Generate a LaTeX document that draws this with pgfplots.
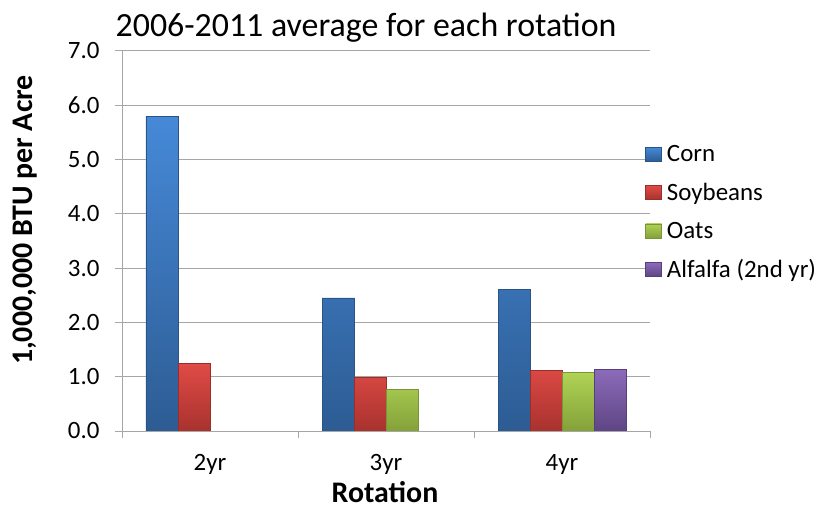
\documentclass[border=0pt]{standalone}
\usepackage{pgfplots}
\pgfplotsset{compat=1.18}
\usepackage{fontspec}
\setmainfont{Carlito}
\definecolor{cornT}{HTML}{4689D8}
\definecolor{cornB}{HTML}{2D5C93}
\definecolor{cornE}{HTML}{2A5486}
\definecolor{soyT}{HTML}{E04B46}
\definecolor{soyB}{HTML}{A8322E}
\definecolor{soyE}{HTML}{9A2E2A}
\definecolor{oatT}{HTML}{B0D355}
\definecolor{oatB}{HTML}{84A13A}
\definecolor{oatE}{HTML}{7A9535}
\definecolor{alfT}{HTML}{8C6BBA}
\definecolor{alfB}{HTML}{5E4584}
\definecolor{alfE}{HTML}{563F7A}
\definecolor{gridc}{HTML}{A6A6A6}
\begin{document}
\begin{tikzpicture}
\path[use as bounding box] (-122bp,-78bp) rectangle (710bp,431bp);
\begin{axis}[
  at={(0,0)}, anchor=south west,
  scale only axis, width=528bp, height=380bp,
  xmin=-0.5, xmax=2.5, ymin=0, ymax=7,
  ybar=0pt, bar width=32bp,
  axis x line=bottom, axis y line=left,
  axis line style={-, draw=gridc, line width=1bp},
  tick align=outside, major tick length=7bp,
  tick style={draw=gridc, line width=1bp},
  ytick={0,1,...,7},
  yticklabel style={/pgf/number format/.cd, fixed, fixed zerofill, precision=1, /tikz/.cd, font=\fontsize{25}{30}\selectfont, xshift=-12bp},
  /pgf/number format/assume math mode=true,
  ymajorgrids, grid style={draw=gridc, line width=1bp},
  xtick={-0.5,0.5,1.5,2.5}, xticklabels={},
  extra x ticks={0,1,2}, extra x tick labels={2yr,3yr,4yr},
  extra x tick style={major tick length=0pt, grid=none,
     xticklabel style={font=\fontsize{25}{30}\selectfont, anchor=base, yshift=-39bp}},
  legend style={at={(0.991,0.757)}, anchor=north west, draw=none, fill=none,
     font=\fontsize{25}{30}\selectfont, row sep=16bp, inner sep=0pt},
  legend cell align=left,
  legend image code/.code={\draw[#1, line width=0.5bp] (0bp,-7bp) rectangle (16bp,7bp); \path (19bp,0bp);},
]
\addplot[top color=cornT, bottom color=cornB, draw=cornE, line width=0.6bp] coordinates {(0,5.80) (1,2.45) (2,2.61)};
\addplot[top color=soyT, bottom color=soyB, draw=soyE, line width=0.6bp] coordinates {(0,1.24) (1,0.99) (2,1.12)};
\addplot[top color=oatT, bottom color=oatB, draw=oatE, line width=0.6bp] coordinates {(1,0.77) (2,1.08)};
\addplot[top color=alfT, bottom color=alfB, draw=alfE, line width=0.6bp] coordinates {(2,1.14)};
\legend{Corn,Soybeans,Oats,Alfalfa (2nd yr)}
\end{axis}
\node[anchor=base, font=\fontsize{34}{40}\selectfont] at (244bp,394bp) {2006-2011 average for each rotation};
\node[anchor=base, inner sep=0pt, font=\bfseries\fontsize{30}{36}\selectfont] at (263bp,-71bp) {Rotation};
\node[anchor=base, rotate=90, inner sep=0pt, font=\bfseries\fontsize{30}{36}\selectfont] at (-89bp,211bp) {1,000,000 BTU per Acre};
\end{tikzpicture}
\end{document}
